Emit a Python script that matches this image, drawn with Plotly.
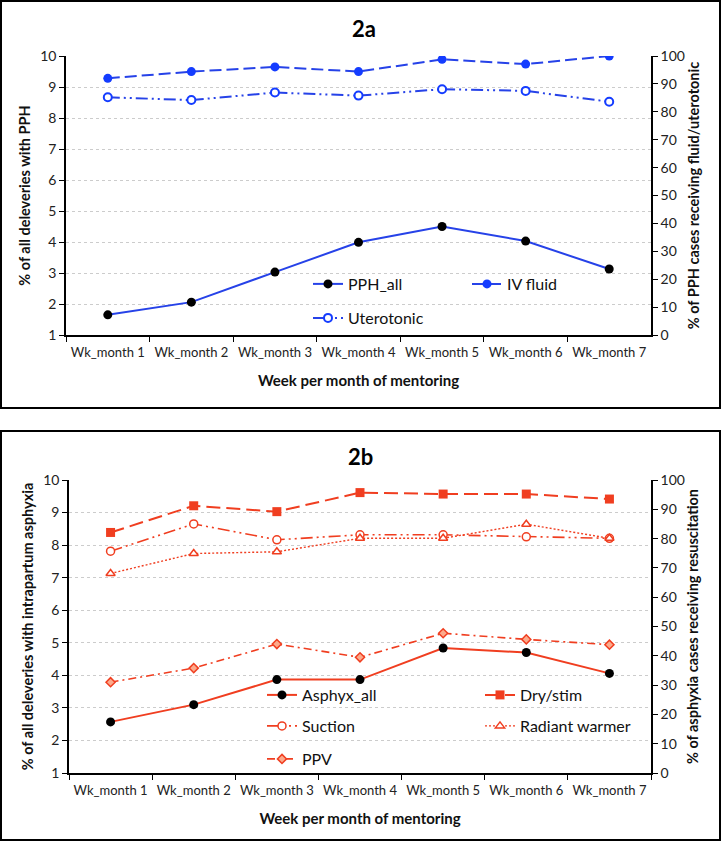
import plotly.graph_objects as go

weeks = ['Wk_month 1', 'Wk_month 2', 'Wk_month 3', 'Wk_month 4',
         'Wk_month 5', 'Wk_month 6', 'Wk_month 7']

# panel 2a
pph_all = [1.65, 2.06, 3.03, 3.99, 4.50, 4.03, 3.13]          # left axis
iv_fluid = [92.0, 94.4, 96.1, 94.4, 98.8, 97.1, 100.0]        # right axis
uterotonic = [85.2, 84.2, 86.9, 85.8, 88.1, 87.5, 83.6]       # right axis

# panel 2b
asphyx_all = [2.57, 3.10, 3.87, 3.87, 4.84, 4.70, 4.06]       # left axis
dry_stim = [82.1, 91.2, 89.2, 95.7, 95.2, 95.2, 93.5]         # right axis
suction = [75.7, 85.0, 79.6, 81.3, 81.3, 80.6, 80.1]
radiant_warmer = [68.1, 74.9, 75.5, 80.1, 80.1, 84.9, 80.1]
ppv = [31.0, 35.8, 44.0, 39.5, 47.7, 45.6, 43.8]

W, H = 724, 844
BLUE = 'rgb(38,66,232)'
BLUE2 = 'rgb(20,60,255)'
RED = 'rgb(240,62,32)'
FONT = 'Lato'
DD = '12px,4px,2px,4px,2px,4px'


def px(x):
    return x / W


def py(y):
    return 1 - y / H


fig = go.Figure()

# ---- 2a
fig.add_trace(go.Scatter(name='PPH_all', x=weeks, y=pph_all, xaxis='x', yaxis='y',
                         mode='lines+markers', line=dict(color=BLUE, width=2),
                         marker=dict(color='black', size=9), legend='legend'))
fig.add_trace(go.Scatter(name='IV fluid', x=weeks, y=iv_fluid, xaxis='x', yaxis='y2',
                         mode='lines+markers', line=dict(color=BLUE, width=2, dash='12px,5px'),
                         marker=dict(color=BLUE2, size=9), legend='legend'))
fig.add_trace(go.Scatter(name='Uterotonic', x=weeks, y=uterotonic, xaxis='x', yaxis='y2',
                         mode='lines+markers', line=dict(color=BLUE, width=2, dash=DD),
                         marker=dict(color='white', size=8, symbol='circle',
                                     line=dict(color=BLUE2, width=2)), legend='legend2'))

# ---- 2b
fig.add_trace(go.Scatter(name='Asphyx_all', x=weeks, y=asphyx_all, xaxis='x2', yaxis='y3',
                         mode='lines+markers', line=dict(color=RED, width=2),
                         marker=dict(color='black', size=9), legend='legend3'))
fig.add_trace(go.Scatter(name='Dry/stim', x=weeks, y=dry_stim, xaxis='x2', yaxis='y4',
                         mode='lines+markers', line=dict(color=RED, width=2, dash='14px,6px'),
                         marker=dict(color=RED, size=9, symbol='square'), legend='legend3'))
fig.add_trace(go.Scatter(name='Suction', x=weeks, y=suction, xaxis='x2', yaxis='y4',
                         mode='lines+markers', line=dict(color=RED, width=1.6, dash=DD),
                         marker=dict(color='white', size=8, symbol='circle',
                                     line=dict(color=RED, width=1.5)), legend='legend4'))
fig.add_trace(go.Scatter(name='Radiant warmer', x=weeks, y=radiant_warmer, xaxis='x2', yaxis='y4',
                         mode='lines+markers', line=dict(color=RED, width=1.4, dash='2px,2px'),
                         marker=dict(color='white', size=8, symbol='triangle-up',
                                     line=dict(color=RED, width=1.5)), legend='legend4'))
fig.add_trace(go.Scatter(name='PPV', x=weeks, y=ppv, xaxis='x2', yaxis='y4',
                         mode='lines+markers', line=dict(color=RED, width=1.6, dash='8px,4px,2px,4px'),
                         marker=dict(color='rgb(252,170,140)', size=7, symbol='diamond',
                                     line=dict(color=RED, width=1.5)), legend='legend5'))

tickfont = dict(family=FONT, size=14, color='#222')
titlefont = dict(family=FONT, size=14.5, color='#111', weight='bold')

xcommon = dict(type='category', range=[-0.5, 6.5], tickson='boundaries', ticks='outside',
               ticklen=5, tickcolor='black', showline=True, linecolor='black', linewidth=1.5,
               showgrid=False, tickfont=dict(tickfont, size=13), tickangle=0, automargin=False,
               ticklabelstandoff=5,
               title_font=dict(family=FONT, size=15, color='#111', weight='bold'),
               title_standoff=16, zeroline=False)
yleft = dict(range=[1, 10], dtick=1, ticks='outside', ticklen=5, tickcolor='black',
             showline=True, linecolor='black', linewidth=1.5, showgrid=True,
             gridcolor='#cccccc', griddash='dot', gridwidth=1, tickfont=tickfont,
             title_font=titlefont, title_standoff=6, zeroline=False, automargin=False)
yright = dict(range=[0, 100], dtick=10, ticks='outside', ticklen=5, tickcolor='black',
              showline=True, linecolor='black', linewidth=1.5, showgrid=False,
              tickfont=tickfont, title_font=titlefont, title_standoff=4, zeroline=False,
              side='right', automargin=False)

legcommon = dict(orientation='h', bgcolor='rgba(0,0,0,0)', yanchor='middle', xanchor='left',
                 font=dict(family=FONT, size=16, color='#111'), itemwidth=30,
                 entrywidthmode='pixels', tracegroupgap=0)

fig.update_layout(
    width=W, height=H,
    margin=dict(l=0, r=0, t=0, b=0, autoexpand=False),
    paper_bgcolor='white', plot_bgcolor='white',
    font=dict(family=FONT),
    xaxis=dict(xcommon, domain=[px(66), px(651)], anchor='y',
               title_text='Week per month of mentoring'),
    yaxis=dict(yleft, domain=[py(335), py(56)], anchor='x',
               title_text='% of all deleveries with PPH'),
    yaxis2=dict(yright, overlaying='y', anchor='x',
                title_text='% of PPH cases receiving fluid/uterotonic'),
    xaxis2=dict(xcommon, domain=[px(69), px(651)], anchor='y3',
                title_text='Week per month of mentoring'),
    yaxis3=dict(yleft, domain=[py(773), py(480)], anchor='x2',
                title_text='% of all deleveries with intrapartum asphyxia'),
    yaxis4=dict(yright, overlaying='y3', anchor='x2',
                title_text='% of asphyxia cases receiving resuscitation'),
    legend=dict(legcommon, x=px(308), y=py(284), entrywidth=114),
    legend2=dict(legcommon, x=px(308), y=py(318), entrywidth=114),
    legend3=dict(legcommon, x=px(262), y=py(695), entrywidth=173),
    legend4=dict(legcommon, x=px(262), y=py(726), entrywidth=173),
    legend5=dict(legcommon, x=px(262), y=py(759), entrywidth=173),
    showlegend=True,
    annotations=[
        dict(text='2a', x=px(364), y=py(28), xref='paper', yref='paper', showarrow=False,
             xanchor='center', yanchor='middle',
             font=dict(family=FONT, size=22, color='black', weight='bold')),
        dict(text='2b', x=px(360), y=py(456), xref='paper', yref='paper', showarrow=False,
             xanchor='center', yanchor='middle',
             font=dict(family=FONT, size=22, color='black', weight='bold')),
    ],
    shapes=[
        dict(type='rect', xref='paper', yref='paper', x0=px(1), x1=px(720), y0=py(408), y1=py(1),
             line=dict(color='black', width=2)),
        dict(type='rect', xref='paper', yref='paper', x0=px(1), x1=px(720), y0=py(840), y1=py(431),
             line=dict(color='black', width=2)),
    ],
)

fig.write_html('out.html', config={'displayModeBar': False},
               post_script="document.body.style.margin='0';")
